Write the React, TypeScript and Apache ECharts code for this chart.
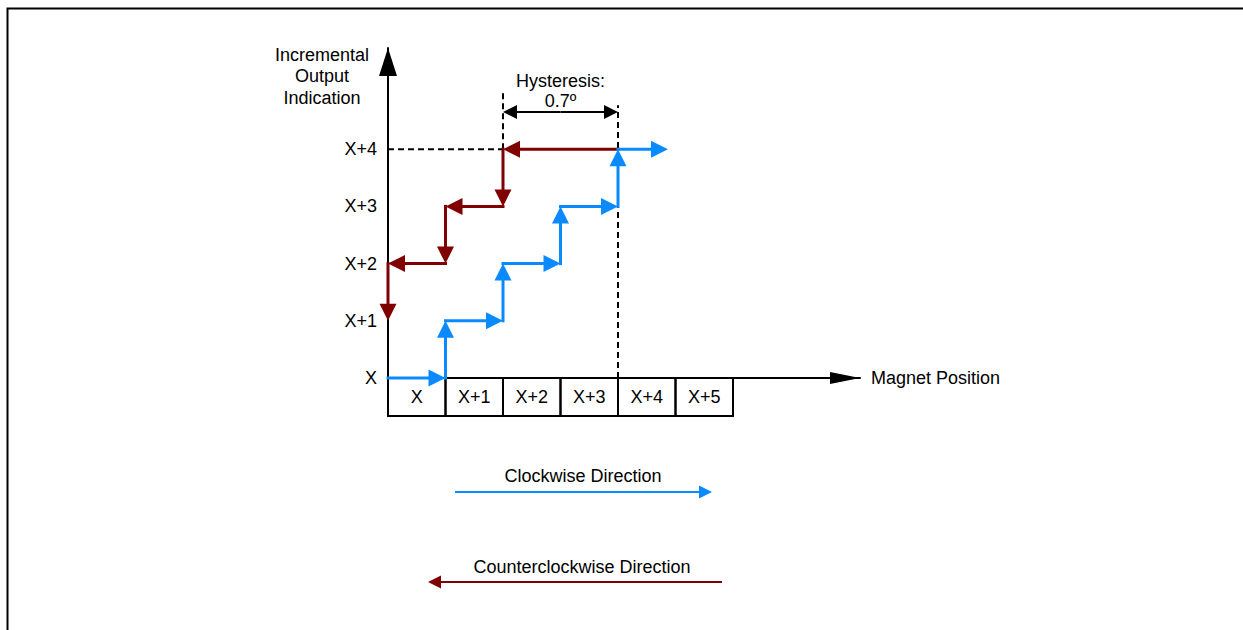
import React, { useEffect, useRef } from 'react';
import * as echarts from 'echarts';

// ---- data ----
const yLevelLabels = ['X', 'X+1', 'X+2', 'X+3', 'X+4'];
const cellLabels = ['X', 'X+1', 'X+2', 'X+3', 'X+4', 'X+5'];
// clockwise staircase vertices [magnet position, output level]
const cwPath: number[][] = [[0, 0], [1, 0], [1, 1], [2, 1], [2, 2], [3, 2], [3, 3], [4, 3], [4, 4], [4.87, 4]];
// counterclockwise staircase vertices
const ccwPath: number[][] = [[4, 4], [2, 4], [2, 3], [1, 3], [1, 2], [0, 2], [0, 1]];
// dashed guides [x1, y1, x2, y2]
const guides: number[][] = [[0, 4, 2, 4], [2, 4, 2, 5.03], [4, 0, 4, 4.77]];
const hysteresis = { from: 2, to: 4, level: 4.65 };
const hysteresisText = [
  { text: 'Hysteresis:', x: 3, y: 5.2 },
  { text: '0.7º', x: 3, y: 4.84 },
];
const cellDepth = -0.664;

const BLUE = '#0a8aff';
const RED = '#800000';
const FONT = '"Liberation Sans", Arial, sans-serif';
const FS = 18;

function toSegments(path: number[][]) {
  const out: number[][] = [];
  for (let i = 0; i < path.length - 1; i++) out.push([path[i][0], path[i][1], path[i + 1][0], path[i + 1][1]]);
  return out;
}

function arrowEls(p1: number[], p2: number[], color: string, lw: number, L: number, hw: number, cap = 'square') {
  const dx = p2[0] - p1[0], dy = p2[1] - p1[1];
  const len = Math.hypot(dx, dy) || 1;
  const ux = dx / len, uy = dy / len;
  const bx = p2[0] - ux * L, by = p2[1] - uy * L;
  return [
    { type: 'line', shape: { x1: p1[0], y1: p1[1], x2: bx + ux * 1, y2: by + uy * 1 }, style: { stroke: color, lineWidth: lw, lineCap: cap } },
    { type: 'polygon', shape: { points: [[p2[0], p2[1]], [bx - uy * hw, by + ux * hw], [bx + uy * hw, by - ux * hw]] }, style: { fill: color } },
  ];
}

function stepSeries(path: number[][], color: string, z: number) {
  return {
    type: 'custom',
    coordinateSystem: 'cartesian2d',
    z,
    silent: true,
    data: toSegments(path),
    renderItem: (_p: any, api: any) => {
      const a = api.coord([api.value(0), api.value(1)]);
      const b = api.coord([api.value(2), api.value(3)]);
      return { type: 'group', children: arrowEls(a, b, color, 3, 17, 8.5) };
    },
  };
}

export default function App() {
  const ref = useRef<HTMLDivElement>(null);
  useEffect(() => {
    if (!ref.current) return;
    document.body.style.margin = '0';
    document.body.style.overflow = 'hidden';
    const chart = echarts.init(ref.current, undefined, { renderer: 'svg' });
    const option: any = {
      animation: false,
      backgroundColor: '#ffffff',
      textStyle: { fontFamily: FONT },
      grid: { left: 388, right: 1243 - 860, top: 48, bottom: 630 - 378, containLabel: false },
      xAxis: {
        type: 'value',
        min: 0,
        max: (860 - 388) / 57.5,
        name: 'Magnet Position',
        nameLocation: 'end',
        nameGap: 11,
        nameTextStyle: { fontSize: FS, color: '#000', fontFamily: FONT, align: 'left', verticalAlign: 'middle' },
        axisLine: { onZero: true, lineStyle: { color: '#000', width: 2 }, symbol: ['none', 'triangle'], symbolSize: [12, 30], symbolOffset: [0, -15] },
        axisTick: { show: false },
        axisLabel: { show: false },
        splitLine: { show: false },
      },
      yAxis: {
        type: 'value',
        min: 0,
        max: (378 - 48) / 57.2,
        interval: 1,
        axisLine: { show: true, lineStyle: { color: '#000', width: 2 }, symbol: ['none', 'triangle'], symbolSize: [18, 28], symbolOffset: [0, -14] },
        axisTick: { show: false },
        splitLine: { show: false },
        axisLabel: {
          margin: 11,
          fontSize: FS,
          color: '#000',
          fontFamily: FONT,
          showMaxLabel: false,
          formatter: (v: number) => yLevelLabels[Math.round(v)] !== undefined && Math.abs(v - Math.round(v)) < 1e-6 ? yLevelLabels[Math.round(v)] : '',
        },
      },
      series: [
        // cells under the axis
        {
          type: 'custom',
          coordinateSystem: 'cartesian2d',
          silent: true,
          z: 3,
          data: cellLabels.map((l, i) => [i, l]),
          renderItem: (_p: any, api: any) => {
            const i = api.value(0);
            const a = api.coord([i, 0]);
            const b = api.coord([i + 1, cellDepth]);
            return {
              type: 'group',
              children: [
                { type: 'rect', shape: { x: a[0], y: a[1], width: b[0] - a[0], height: b[1] - a[1] }, style: { fill: 'none', stroke: '#000', lineWidth: 2 } },
                { type: 'text', x: (a[0] + b[0]) / 2, y: (a[1] + b[1]) / 2, style: { text: cellLabels[i], fontSize: FS, fontFamily: FONT, fill: '#000', align: 'center', verticalAlign: 'middle' } },
              ],
            };
          },
        },
        // dashed guides
        {
          type: 'custom',
          coordinateSystem: 'cartesian2d',
          silent: true,
          z: 2,
          data: guides,
          renderItem: (_p: any, api: any) => {
            const a = api.coord([api.value(0), api.value(1)]);
            const b = api.coord([api.value(2), api.value(3)]);
            return { type: 'line', shape: { x1: a[0], y1: a[1], x2: b[0], y2: b[1] }, style: { stroke: '#000', lineWidth: 2, lineDash: [6, 4] } };
          },
        },
        // hysteresis double arrow
        {
          type: 'custom',
          coordinateSystem: 'cartesian2d',
          silent: true,
          z: 4,
          data: [[hysteresis.from, hysteresis.to, hysteresis.level]],
          renderItem: (_p: any, api: any) => {
            const a = api.coord([api.value(0), api.value(2)]);
            const b = api.coord([api.value(1), api.value(2)]);
            const m = [(a[0] + b[0]) / 2, a[1]];
            return { type: 'group', children: [...arrowEls(m, a, '#000', 2, 14, 7, 'butt'), ...arrowEls(m, b, '#000', 2, 14, 7, 'butt')] };
          },
        },
        // hysteresis text
        {
          type: 'custom',
          coordinateSystem: 'cartesian2d',
          silent: true,
          z: 4,
          data: hysteresisText.map((t) => [t.x, t.y, t.text]),
          renderItem: (p: any, api: any) => {
            const a = api.coord([api.value(0), api.value(1)]);
            return { type: 'text', x: a[0], y: a[1], style: { text: hysteresisText[p.dataIndex].text, fontSize: FS, fontFamily: FONT, fill: '#000', align: 'center', verticalAlign: 'middle' } };
          },
        },
        stepSeries(ccwPath, RED, 5),
        stepSeries(cwPath, BLUE, 6),
      ],
      graphic: [
        { type: 'rect', shape: { x: 7.5, y: 8.5, width: 1300, height: 700 }, style: { fill: 'none', stroke: '#000', lineWidth: 2 }, z: -1 },
        { type: 'text', x: 322, y: 44, style: { text: 'Incremental\nOutput\nIndication', fontSize: FS, lineHeight: 21.5, fontFamily: FONT, fill: '#000', align: 'center', verticalAlign: 'top' } },
        { type: 'text', x: 583, y: 476, style: { text: 'Clockwise Direction', fontSize: FS, fontFamily: FONT, fill: '#000', align: 'center', verticalAlign: 'middle' } },
        { type: 'line', shape: { x1: 455, y1: 492, x2: 700, y2: 492 }, style: { stroke: BLUE, lineWidth: 2 } },
        { type: 'polygon', shape: { points: [[712, 492], [699, 485.5], [699, 498.5]] }, style: { fill: BLUE } },
        { type: 'text', x: 582, y: 567, style: { text: 'Counterclockwise Direction', fontSize: FS, fontFamily: FONT, fill: '#000', align: 'center', verticalAlign: 'middle' } },
        { type: 'line', shape: { x1: 440, y1: 582, x2: 722, y2: 582 }, style: { stroke: RED, lineWidth: 2 } },
        { type: 'polygon', shape: { points: [[428, 582], [441, 575.5], [441, 588.5]] }, style: { fill: RED } },
      ],
    };
    chart.setOption(option);
    return () => chart.dispose();
  }, []);
  return <div ref={ref} style={{ position: 'fixed', left: 0, top: 0, width: 1243, height: 630 }} />;
}
